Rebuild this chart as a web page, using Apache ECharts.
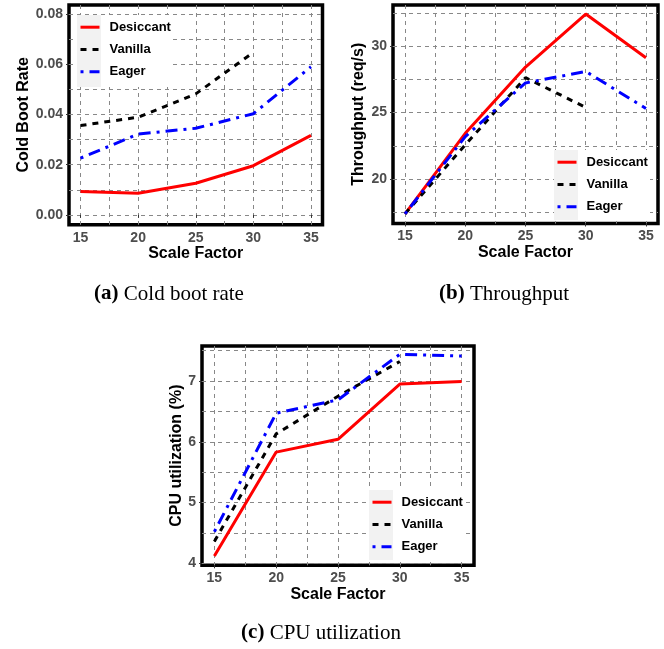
<!DOCTYPE html>
<html>
<head>
<meta charset="utf-8">
<script src="https://cdn.jsdelivr.net/npm/echarts@6.0.0/dist/echarts.min.js"></script>
<style>
html, body { margin: 0; padding: 0; background: #fff; }
#chart { width: 664px; height: 649px; }
</style>
</head>
<body>
<div id="chart"></div>
<script>
var scaleFactor = [15, 20, 25, 30, 35];
var seriesNames = ['Desiccant', 'Vanilla', 'Eager'];

// (a) cold boot rate
var coldDesiccant = [0.0093, 0.0086, 0.0126, 0.0196, 0.0317];
var coldVanilla = [0.0356, 0.0389, 0.0482, 0.0647];
var coldEager = [0.0226, 0.0322, 0.0345, 0.0403, 0.0590];

// (b) throughput, req/s
var tputDesiccant = [17.38, 23.44, 28.43, 32.42, 29.13];
var tputVanilla = [17.38, 22.57, 27.63, 25.39];
var tputEager = [17.38, 23.19, 27.23, 28.10, 25.31];

// (c) cpu utilization, %
var cpuDesiccant = [4.12, 5.83, 6.04, 6.95, 6.99];
var cpuVanilla = [4.36, 6.13, 6.75, 7.32];
var cpuEager = [4.52, 6.47, 6.69, 7.44, 7.41];

var xTicks = [15, 20, 25, 30, 35];
var xGridTicks = [15, 17.5, 20, 22.5, 25, 27.5, 30, 32.5, 35];
var coldTicks = [0, 0.02, 0.04, 0.06, 0.08];
var coldGridTicks = [0, 0.01, 0.02, 0.03, 0.04, 0.05, 0.06, 0.07, 0.08];
var tputTicks = [20, 25, 30];
var tputGridTicks = [17.5, 20, 22.5, 25, 27.5, 30, 32.5];
var cpuTicks = [4, 5, 6, 7];
var cpuGridTicks = [4, 4.5, 5, 5.5, 6, 6.5, 7, 7.5];

var SANS = 'Liberation Sans, Arial, sans-serif';
var SERIF = 'Liberation Serif, Times New Roman, serif';

var panels = [
  { grid: { left: 69, top: 5, width: 253.5, height: 219.7 }, yMin: -0.0039, yMax: 0.0836,
    yName: 'Cold Boot Rate', yGap: 37, yTicks: coldTicks, yGridTicks: coldGridTicks,
    fmt: function (v) { return v.toFixed(2); },
    data: [coldDesiccant, coldVanilla, coldEager],
    legend: { left: 77, top: 15, w: 95, h: 72 } },
  { grid: { left: 393, top: 5, width: 265, height: 218.5 }, yMin: 16.65, yMax: 33.1,
    yName: 'Throughput (req/s)', yGap: 26, yTicks: tputTicks, yGridTicks: tputGridTicks,
    fmt: function (v) { return String(v); },
    data: [tputDesiccant, tputVanilla, tputEager],
    legend: { left: 554, top: 150, w: 96, h: 70 } },
  { grid: { left: 202, top: 346, width: 272, height: 219.3 }, yMin: 3.967, yMax: 7.576,
    yName: 'CPU utilization (%)', yGap: 17, yTicks: cpuTicks, yGridTicks: cpuGridTicks,
    fmt: function (v) { return String(v); },
    data: [cpuDesiccant, cpuVanilla, cpuEager],
    legend: { left: 369, top: 490, w: 94, h: 70 } }
];

var lineStyles = [
  { color: '#ff0000', width: 3, type: 'solid' },
  { color: '#000000', width: 3, type: [6, 6] },
  { color: '#0000ff', width: 3, type: [3, 6, 12, 6] }
];

var gridLine = { color: '#888', width: 1, type: [4, 4] };
var labelStyle = { color: '#4d4d4d', fontWeight: 'bold', fontSize: 14, fontFamily: SANS };
var titleStyle = { color: '#000', fontWeight: 'bold', fontSize: 16, fontFamily: SANS };

function pairs(ys) {
  return ys.map(function (v, i) { return [scaleFactor[i], v]; });
}

var grids = [], xAxes = [], yAxes = [], series = [], legends = [], graphics = [];

panels.forEach(function (p, gi) {
  grids.push(Object.assign({
    show: true, borderColor: '#000', borderWidth: 3.5, backgroundColor: '#fff'
  }, p.grid));

  // main axes: ticks, labels, names
  xAxes.push({
    type: 'value', gridIndex: gi, min: 14, max: 36,
    name: 'Scale Factor', nameLocation: 'middle', nameGap: 21, nameTextStyle: titleStyle,
    axisLine: { show: false },
    axisTick: { show: true, length: 3, lineStyle: { color: '#333' }, customValues: xTicks },
    axisLabel: Object.assign({ customValues: xTicks, margin: 6 }, labelStyle),
    splitLine: { show: false }
  });
  // helper axes: dashed grid lines (major + minor)
  xAxes.push({
    type: 'value', gridIndex: gi, min: 14, max: 36,
    axisLine: { show: false },
    axisTick: { show: false, customValues: xGridTicks },
    axisLabel: { show: false },
    splitLine: { show: true, lineStyle: gridLine }
  });
  yAxes.push({
    type: 'value', gridIndex: gi, min: p.yMin, max: p.yMax,
    name: p.yName, nameLocation: 'middle', nameGap: p.yGap, nameTextStyle: titleStyle,
    axisLine: { show: false },
    axisTick: { show: true, length: 3, lineStyle: { color: '#333' }, customValues: p.yTicks },
    axisLabel: Object.assign({ customValues: p.yTicks, margin: 6, formatter: p.fmt }, labelStyle),
    splitLine: { show: false }
  });
  yAxes.push({
    type: 'value', gridIndex: gi, min: p.yMin, max: p.yMax,
    axisLine: { show: false },
    axisTick: { show: false, customValues: p.yGridTicks },
    axisLabel: { show: false },
    splitLine: { show: true, lineStyle: gridLine }
  });

  p.data.forEach(function (ys, si) {
    series.push({
      name: seriesNames[si], type: 'line',
      xAxisIndex: gi * 2, yAxisIndex: gi * 2,
      data: pairs(ys), symbol: 'none', silent: true,
      lineStyle: lineStyles[si], itemStyle: { color: lineStyles[si].color },
      z: 2 + si
    });
  });

  var L = p.legend;
  legends.push({
    orient: 'vertical', left: L.left + 2, top: L.top + 5.7, padding: 0,
    itemWidth: 19, itemHeight: 14, itemGap: 9.3,
    selectedMode: false, data: seriesNames,
    lineStyle: { width: 3 }, itemStyle: { opacity: 0 },
    textStyle: { color: '#000', fontWeight: 'bold', fontSize: 13, fontFamily: SANS, padding: [0, 0, 0, 5] }
  });
  graphics.push({
    type: 'rect', z: 8, silent: true,
    shape: { x: L.left, y: L.top, width: L.w, height: L.h },
    style: { fill: '#fff' }
  });
  graphics.push({
    type: 'rect', z: 9, silent: true,
    shape: { x: L.left, y: L.top, width: 24, height: L.h },
    style: { fill: '#f2f2f2' }
  });
});

var captions = [
  { x: 169, y: 294, tag: '(a)', text: 'Cold boot rate' },
  { x: 504, y: 294, tag: '(b)', text: 'Throughput' },
  { x: 321, y: 633, tag: '(c)', text: 'CPU utilization' }
];
captions.forEach(function (c) {
  graphics.push({
    type: 'text', x: c.x, y: c.y, silent: true,
    style: {
      text: '{b|' + c.tag + '} ' + c.text,
      fontFamily: SERIF, fontSize: 21, fill: '#000',
      align: 'center', verticalAlign: 'middle',
      rich: { b: { fontFamily: SERIF, fontSize: 21, fontWeight: 'bold' } }
    }
  });
});

legends.forEach(function (l) { l.z = 10; });

var chart = echarts.init(document.getElementById('chart'), null, { renderer: 'canvas' });
chart.setOption({
  animation: false,
  backgroundColor: '#fff',
  grid: grids,
  xAxis: xAxes,
  yAxis: yAxes,
  legend: legends,
  graphic: graphics,
  series: series
});
</script>
</body>
</html>
